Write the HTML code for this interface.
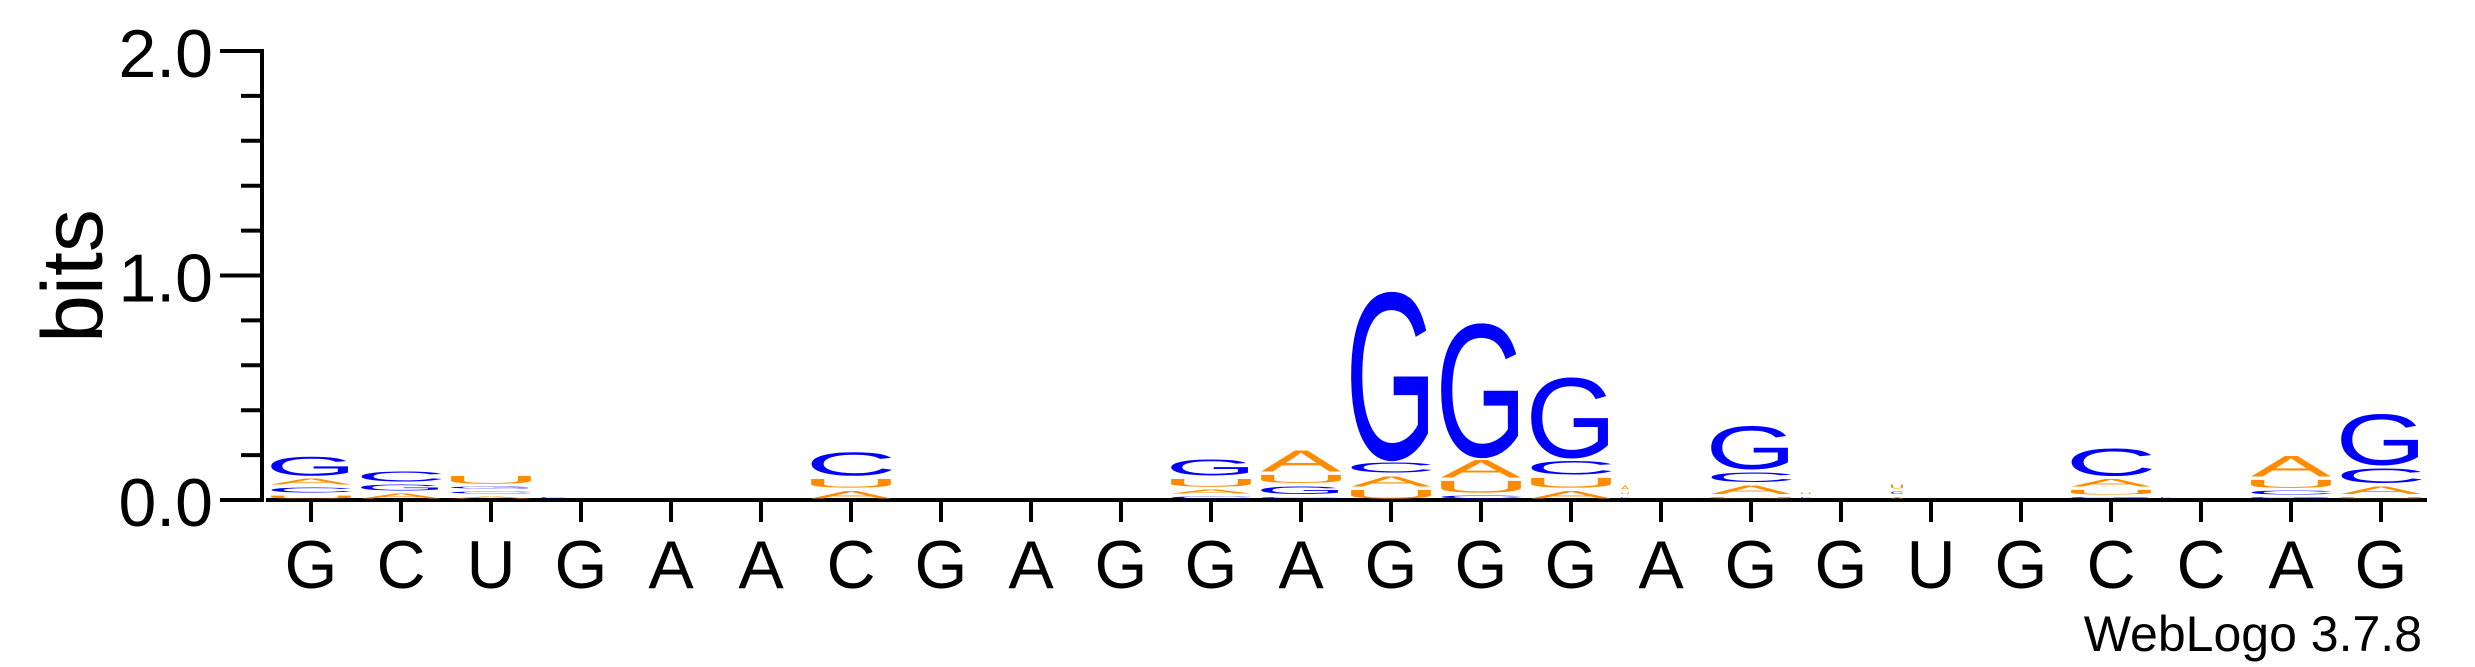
<!DOCTYPE html>
<html><head><meta charset="utf-8"><style>
html,body{margin:0;padding:0;background:#fff;}
svg{display:block;font-family:"Liberation Sans",Arial,sans-serif;}
</style></head><body>
<svg id="chart" width="2475" height="667" viewBox="0 0 2475 667" xmlns="http://www.w3.org/2000/svg">
<g id="axes"></g>
<g id="stacks"></g>
<text transform="translate(102,276) rotate(-90)" text-anchor="middle" font-size="86">bits</text>
<text x="2422" y="651" text-anchor="end" font-size="50">WebLogo 3.7.8</text>
</svg>
<script>
// ---- data ----
const positions = ["G","C","U","G","A","A","C","G","A","G","G","A","G","G","G","A","G","G","U","G","C","C","A","G"];
// bits per letter per column
const bitsA = [0.040,0.036,0.022,0,0,0,0.049,0,0,0,0.031,0.110,0.062,0.094,0.049,0.030,0.053,0,0.020,0,0.050,0,0.107,0.050];
const bitsC = [0.036,0.062,0.022,0.015,0,0,0.120,0,0,0,0.022,0.020,0.062,0.027,0.076,0.020,0.058,0.020,0.025,0,0.138,0.020,0.030,0.080];
const bitsG = [0.098,0.040,0.022,0,0,0,0,0,0,0,0.089,0.050,0.780,0.624,0.380,0,0.210,0,0,0,0.018,0,0.018,0.245];
const bitsU = [0.027,0,0.049,0,0,0,0.053,0,0,0,0.049,0.050,0.053,0.067,0.058,0.020,0.020,0.020,0.030,0,0.035,0,0.050,0.020];
// fraction of full stack width (narrow stacks = mostly gapped columns)
const widthFrac = [1,1,1,0.3,1,1,1,1,1,1,1,1,1,1,1,0.1,1,0.12,0.15,1,1,0.12,1,1];
const yTicks = [0,1,2];
const yTickLabels = ["0.0","1.0","2.0"];

const NS="http://www.w3.org/2000/svg";
const X0=311, DX=90, Y0=500, PXB=224.5, COLW=80;
function xScale(i){return X0+i*DX;}
function yScale(b){return Y0-b*PXB;}
const colors={A:"#ff8c00",U:"#ff8c00",C:"#0000ff",G:"#0000ff"};
const inkW={A:0.667,C:0.63,G:0.68,U:0.57};

const axes=document.getElementById('axes');
function line(x1,y1,x2,y2,name){
  const l=document.createElementNS(NS,'line');
  l.setAttribute('x1',x1);l.setAttribute('y1',y1);l.setAttribute('x2',x2);l.setAttribute('y2',y2);
  l.setAttribute('stroke','#000');l.setAttribute('stroke-width',4);
  
  
  axes.appendChild(l);
}
line(262,49,262,502,'y-axis-line');
line(266,500,2427,500,'x-axis-line');
for(let k=0;k<=10;k++){
  const y=yScale(k*0.2);
  const major=(k%5===0);
  line(major?220:241,y,262,y,major?'y-major-tick':'y-minor-tick');
}
yTicks.forEach((v,i)=>{
  const t=document.createElementNS(NS,'text');
  t.setAttribute('x',213);t.setAttribute('y',yScale(v)+26);
  t.setAttribute('text-anchor','end');t.setAttribute('font-size',68);
  t.textContent=yTickLabels[i];
  
  
  axes.appendChild(t);
});
positions.forEach((p,i)=>{
  const x=xScale(i);
  line(x,500,x,522,'x-tick');
  const t=document.createElementNS(NS,'text');
  t.setAttribute('x',x);t.setAttribute('y',588);
  t.setAttribute('text-anchor','middle');t.setAttribute('font-size',68);
  t.textContent=p;
  
  
  axes.appendChild(t);
});

const stacks=document.getElementById('stacks');
positions.forEach((p,i)=>{
  const entries=[["A",bitsA[i]],["C",bitsC[i]],["G",bitsG[i]],["U",bitsU[i]]].filter(e=>e[1]>0);
  entries.sort((a,b)=>a[1]-b[1]);
  const w=COLW*widthFrac[i];
  const left=xScale(i)-COLW/2;
  const cx=left+w/2;
  let cum=0;
  entries.forEach(([L,b])=>{
    const yb=yScale(cum), yt=yScale(cum+b);
    cum+=b;
    const box=yb-yt;
    const h=Math.max(1,box-3);
    const base=yb-1.5;
    const t=document.createElementNS(NS,'text');
    t.setAttribute('x',0);t.setAttribute('y',0);
    t.setAttribute('font-size',100);t.setAttribute('text-anchor','middle');
    t.setAttribute('fill',colors[L]);
    t.setAttribute('transform',`translate(${cx},${base}) scale(${w/(inkW[L]*100)},${h/72})`);
    t.textContent=L;
    
    
    stacks.appendChild(t);
  });
});
</script>
</body></html>
